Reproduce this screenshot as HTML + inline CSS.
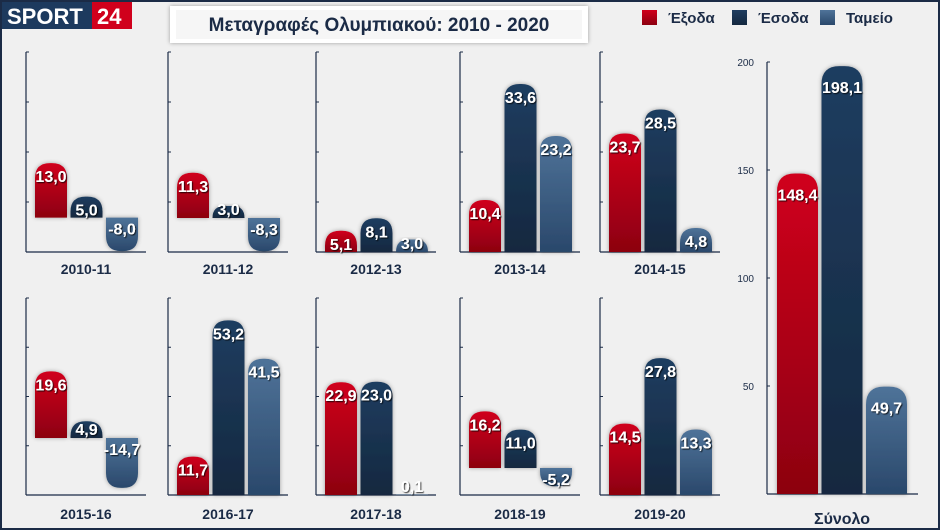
<!DOCTYPE html>
<html><head><meta charset="utf-8"><style>
body{margin:0;background:#efefef;}
#wrap{position:relative;width:940px;height:530px;overflow:hidden;background:#f0f0f0;box-sizing:border-box;border:2px solid #1b2b46;font-family:"Liberation Sans",sans-serif;}
svg text{font-family:"Liberation Sans",sans-serif;}
</style></head><body>
<div id="wrap">
<svg id="chart" width="940" height="530" style="position:absolute;left:-2px;top:-2px">
<defs>
<linearGradient id="gR" x1="0" y1="0" x2="0" y2="1"><stop offset="0" stop-color="#d0001c"/><stop offset="1" stop-color="#8c0010"/></linearGradient>
<linearGradient id="gN" x1="0" y1="0" x2="0" y2="1"><stop offset="0" stop-color="#1f3d60"/><stop offset="1" stop-color="#14283f"/></linearGradient>
<linearGradient id="gL" x1="0" y1="0" x2="0" y2="1"><stop offset="0" stop-color="#4f7399"/><stop offset="1" stop-color="#2a486b"/></linearGradient>
<filter id="sh" x="-20%" y="-20%" width="140%" height="140%"><feDropShadow dx="0" dy="0" stdDeviation="2" flood-color="#000" flood-opacity="0.35"/></filter>
<filter id="ts"><feDropShadow dx="1" dy="1" stdDeviation="0.6" flood-color="#000" flood-opacity="0.8"/></filter>
</defs>
<g>
<rect x="2" y="2" width="92" height="27" fill="#1d3a5e"/>
<rect x="92" y="2" width="40" height="27" fill="#d0001c"/>
<text x="7" y="24" font-size="22" font-weight="bold" fill="#fff">SPORT</text>
<text x="97" y="24" font-size="22" font-weight="bold" fill="#fff">24</text>
</g>
<g>
<rect x="170" y="6" width="418" height="37" fill="#fff" filter="url(#sh)"/>
<rect x="176" y="10" width="406" height="29" fill="#f6f6f6"/>
<text x="379" y="31" font-size="19" font-weight="bold" fill="#1b2b46" text-anchor="middle">Μεταγραφές Ολυμπιακού: 2010 - 2020</text>
</g>
<g>
<rect x="642" y="10" width="15" height="15" fill="url(#gR)"/><text x="668" y="23" font-size="15" font-weight="bold" fill="#1b2b46">Έξοδα</text>
<rect x="732" y="10" width="15" height="15" fill="url(#gN)"/><text x="758" y="23" font-size="15" font-weight="bold" fill="#1b2b46">Έσοδα</text>
<rect x="820" y="10" width="15" height="15" fill="url(#gL)"/><text x="846" y="23" font-size="15" font-weight="bold" fill="#1b2b46">Ταμείο</text>
</g>
</svg>
</div>
<script>
const seasons=["2010-11","2011-12","2012-13","2013-14","2014-15","2015-16","2016-17","2017-18","2018-19","2019-20"];
const exodaValues=[13.0,11.3,5.1,10.4,23.7,19.6,11.7,22.9,16.2,14.5];
const esodaValues=[5.0,3.0,8.1,33.6,28.5,4.9,53.2,23.0,11.0,27.8];
const tameioValues=[-8.0,-8.3,3.0,23.2,4.8,-14.7,41.5,0.1,-5.2,13.3];
const domainMin=[-8.2,-8.5,0,0,0,-16.8,0,0,-7.7,0];
const domainMax=[39.5,41.5,48,40,40,41.2,60,40,48.6,40];
const totalCategory="Σύνολο";
const totalValues=[148.4,198.1,49.7];
const totalTicks=[50,100,150,200];

const svg=document.getElementById('chart');
const NS='http://www.w3.org/2000/svg';
function mk(t,a){const e=document.createElementNS(NS,t);for(const k in a)e.setAttribute(k,a[k]);svg.appendChild(e);return e;}
function fmt(v){return v.toFixed(1).replace('.',',');}
function barPath(x,w,y0,y1,r){
  const h=Math.abs(y1-y0);r=Math.min(r,h,w/2);
  if(y1<y0){const t=y1;return `M${x},${y0}V${t+r}Q${x},${t} ${x+r},${t}H${x+w-r}Q${x+w},${t} ${x+w},${t+r}V${y0}Z`;}
  const b=y1;return `M${x},${y0}V${b-r}Q${x},${b} ${x+r},${b}H${x+w-r}Q${x+w},${b} ${x+w},${b-r}V${y0}Z`;
}
const fills=['url(#gR)','url(#gN)','url(#gL)'];
const names=['exoda','esoda','tameio'];
const panelX=[26,168,316,460,600];
seasons.forEach((s,i)=>{
  const row=i<5?0:1, col=i%5;
  const ax=panelX[col];
  const top=row?298:52, bot=row?495:252;
  const dmin=domainMin[i], dmax=domainMax[i];
  const yS=v=>bot-(v-dmin)/(dmax-dmin)*(bot-top);
  let e=mk('line',{x1:ax,y1:top,x2:ax,y2:bot,stroke:'#1b2b46','stroke-width':1.2});
  
  
  e=mk('line',{x1:ax,y1:bot,x2:ax+120,y2:bot,stroke:'#1b2b46','stroke-width':1.2});
  
  
  for(let k=0;k<4;k++){const ty=top+k*(bot-top)/4;mk('line',{x1:ax,y1:ty,x2:ax+3,y2:ty,stroke:'#1b2b46'});}
  const vals=[exodaValues[i],esodaValues[i],tameioValues[i]];
  const z=yS(0);
  vals.forEach((v,j)=>{
    const x=ax+9+j*35.5, w=32, y=yS(v);
    const b=mk('path',{d:barPath(x,w,z,y,15),fill:fills[j],filter:'url(#sh)'});
    
    
    let ly;
    if(v>=0){ly=(z-y)<20? z-3 : y+19;} else {ly=z+17;}
    const t=mk('text',{x:x+w/2,y:ly,'font-size':16,'font-weight':'bold',fill:'#fff','text-anchor':'middle',filter:'url(#ts)'});
    t.textContent=fmt(v);
    
    
  });
  const l=mk('text',{x:ax+60,y:row?519:274,'font-size':14,'font-weight':'bold',fill:'#1b2b46','text-anchor':'middle'});
  l.textContent=s;
  
  
});
const tax=767, ttop=62, tbot=494, tmax=200;
const tY=v=>tbot-v/tmax*(tbot-ttop);
let e=mk('line',{x1:tax,y1:ttop,x2:tax,y2:tbot,stroke:'#1b2b46','stroke-width':1.2});


e=mk('line',{x1:tax,y1:tbot,x2:918,y2:tbot,stroke:'#1b2b46','stroke-width':1.2});


totalTicks.forEach(t=>{
  mk('line',{x1:tax,y1:tY(t),x2:tax+3,y2:tY(t),stroke:'#1b2b46'});
  const tt=mk('text',{x:tax-13,y:tY(t)+4,'font-size':10,fill:'#1b2b46','text-anchor':'end'});
  tt.textContent=t;
  
  
});
totalValues.forEach((v,j)=>{
  const x=777+j*44.5, w=41, y=tY(v);
  const b=mk('path',{d:barPath(x,w,tbot,y,18),fill:fills[j],filter:'url(#sh)'});
  
  
  const t=mk('text',{x:x+w/2,y:y+27,'font-size':16,'font-weight':'bold',fill:'#fff','text-anchor':'middle',filter:'url(#ts)'});
  t.textContent=fmt(v);
  
  
});
const tl=mk('text',{x:842,y:524,'font-size':16,'font-weight':'bold',fill:'#1b2b46','text-anchor':'middle'});
tl.textContent=totalCategory;


</script>
</body></html>
